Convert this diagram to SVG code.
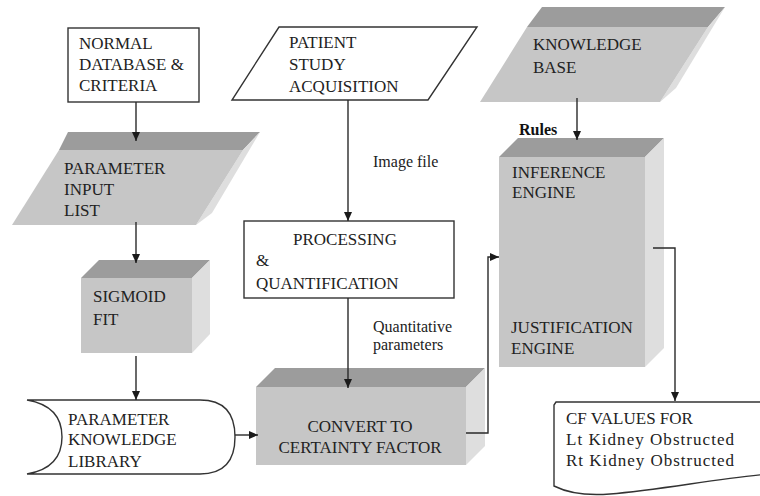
<svg xmlns="http://www.w3.org/2000/svg" width="760" height="496" viewBox="0 0 760 496">
<defs>
<marker id="ah" markerWidth="10" markerHeight="10" refX="9" refY="5" orient="auto" markerUnits="userSpaceOnUse">
<path d="M0,1 L9,5 L0,9 Z" fill="#1a1a1a"/>
</marker>
</defs>
<style>
text{font-family:"Liberation Serif","DejaVu Serif",serif}
.t{font-size:17px;fill:#222}
.s{font-size:16px;fill:#222}
.b{font-size:16px;font-weight:bold;fill:#111}
.w{fill:#fff;stroke:#333;stroke-width:1.4}
.face{fill:#c6c6c6}
.top{fill:#9c9c9c}
.side{fill:#dedede}
.c{fill:none;stroke:#2a2a2a;stroke-width:1.4}
</style>
<rect width="760" height="496" fill="#fff"/>

<g id="normal-db">
<rect class="w" x="68" y="28" width="131" height="74"/>
<text class="t" x="79" y="49">NORMAL</text>
<text class="t" x="79" y="70">DATABASE &amp;</text>
<text class="t" x="79" y="91">CRITERIA</text>
</g>

<g id="param-input">
<polygon class="top" points="59,150 243,150 260,132 68,132"/>
<polygon class="side" points="243,150 260,132 212,213 196,225"/>
<polygon class="face" points="59,150 243,150 196,225 12,225"/>
<text class="t" x="64" y="174">PARAMETER</text>
<text class="t" x="64" y="195">INPUT</text>
<text class="t" x="64" y="216">LIST</text>
</g>

<g id="sigmoid">
<polygon class="top" points="81,278 192,278 210,260 99,260"/>
<polygon class="side" points="192,278 210,260 210,334 192,353"/>
<rect class="face" x="81" y="278" width="111" height="75"/>
<text class="t" x="93" y="302">SIGMOID</text>
<text class="t" x="93" y="325">FIT</text>
</g>

<g id="param-library">
<path class="w" d="M27,400 L200,400 Q235,400 235,437 Q235,474 200,474 L27,474 Q62,468 62,437 Q62,406 27,400 Z"/>
<text class="t" x="68" y="425">PARAMETER</text>
<text class="t" x="68" y="445">KNOWLEDGE</text>
<text class="t" x="68" y="467">LIBRARY</text>
</g>

<g id="patient">
<polygon class="w" points="279,27 477,27 428,100 232,100"/>
<text class="t" x="289" y="48">PATIENT</text>
<text class="t" x="289" y="70">STUDY</text>
<text class="t" x="289" y="92">ACQUISITION</text>
</g>

<g id="processing">
<rect class="w" x="244" y="221" width="210" height="77"/>
<text class="t" x="293" y="245">PROCESSING</text>
<text class="t" x="256" y="266">&amp;</text>
<text class="t" x="256" y="289">QUANTIFICATION</text>
</g>

<g id="convert">
<polygon class="top" points="256,387 466,387 485,368 275,368"/>
<polygon class="side" points="466,387 485,368 485,446 466,465"/>
<rect class="face" x="256" y="387" width="210" height="78"/>
<text class="t" x="360" y="432" text-anchor="middle">CONVERT TO</text>
<text class="t" x="360" y="453" text-anchor="middle">CERTAINTY FACTOR</text>
</g>

<g id="knowledge-base">
<polygon class="top" points="527,27 708,27 725,7 542,7"/>
<polygon class="side" points="708,27 725,7 676,88 660,102"/>
<polygon class="face" points="527,27 708,27 660,102 480,102"/>
<text class="t" x="533" y="50">KNOWLEDGE</text>
<text class="t" x="533" y="73">BASE</text>
</g>

<g id="engine">
<polygon class="top" points="499,157 645,157 664,138 518,138"/>
<polygon class="side" points="645,157 664,138 664,348 645,367"/>
<rect class="face" x="499" y="157" width="146" height="210"/>
<text class="t" x="512" y="178">INFERENCE</text>
<text class="t" x="512" y="198">ENGINE</text>
<text class="t" x="511" y="333">JUSTIFICATION</text>
<text class="t" x="511" y="354">ENGINE</text>
</g>

<g id="cf-values">
<path class="w" d="M556,402 L770,402 L770,474 C720,478 660,490 610,494 C585,496 566,492 554,486 L554,405 Z"/>
<text class="t" x="566" y="424">CF VALUES FOR</text>
<text class="t" x="566" y="445" textLength="168" lengthAdjust="spacing">Lt Kidney Obstructed</text>
<text class="t" x="566" y="466" textLength="168" lengthAdjust="spacing">Rt Kidney Obstructed</text>
</g>

<g id="connectors">
<line class="c" x1="136" y1="102" x2="136" y2="141" marker-end="url(#ah)"/>
<line class="c" x1="136" y1="222" x2="136" y2="263" marker-end="url(#ah)"/>
<line class="c" x1="136" y1="356" x2="136" y2="400" marker-end="url(#ah)"/>
<line class="c" x1="235" y1="435" x2="258" y2="435" marker-end="url(#ah)"/>
<line class="c" x1="348" y1="100" x2="348" y2="221" marker-end="url(#ah)"/>
<line class="c" x1="348" y1="298" x2="348" y2="388" marker-end="url(#ah)"/>
<polyline class="c" points="466,433 488,433 488,257 499,257" marker-end="url(#ah)"/>
<line class="c" x1="577" y1="98" x2="577" y2="140" marker-end="url(#ah)"/>
<polyline class="c" points="653,248 675,248 675,401" marker-end="url(#ah)"/>
<text class="s" x="373" y="167">Image file</text>
<text class="s" x="373" y="332">Quantitative</text>
<text class="s" x="373" y="350">parameters</text>
<text class="b" x="519" y="135">Rules</text>
</g>
</svg>
